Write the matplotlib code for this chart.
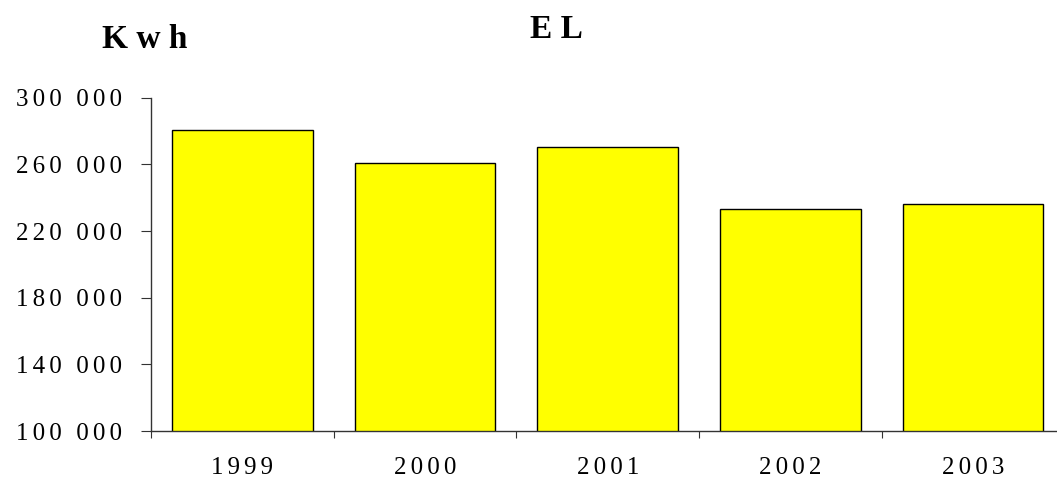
import matplotlib
matplotlib.use("Agg")
import matplotlib.pyplot as plt
import numpy as np

years = ["1999", "2000", "2001", "2002", "2003"]
kwh = [280500, 261000, 270500, 233000, 236000]
yticks = [100000, 140000, 180000, 220000, 260000, 300000]

LS = "\u2006"  # narrow gap to mimic the letter spacing of the original


def spaced(s):
    return LS.join(s)


def fmt_num(v):
    s = f"{v:,}".split(",")
    return (LS + " " + LS).join(spaced(part) for part in s)


plt.rcParams["font.family"] = ["Liberation Serif", "DejaVu Serif"]

W, H = 1057, 479
fig = plt.figure(figsize=(W / 100, H / 100), dpi=100)
x0, x1 = 151, 1064.5
y0, y1 = 431, 97.7
ax = fig.add_axes([x0 / W, (H - y0) / H, (x1 - x0) / W, (y0 - y1) / H])

x = np.arange(len(years))
ax.bar(x, kwh, width=0.77, color="#ffff00", edgecolor="black", linewidth=1.0)

ax.set_xlim(-0.5, len(years) - 0.5)
ax.set_ylim(yticks[0], yticks[-1])
ax.set_yticks(yticks)
ax.set_yticklabels([fmt_num(v) for v in yticks], fontsize=18)

ax.set_xticks(np.arange(len(years) + 1) - 0.5)
ax.set_xticklabels([])
ax.set_xticks(x, minor=True)
ax.set_xticklabels([spaced(y) for y in years], minor=True, fontsize=18)
ax.tick_params(axis="x", which="minor", length=0, pad=19)
ax.tick_params(axis="x", which="major", length=5, direction="out", color="#333333")
ax.tick_params(axis="y", length=7.2, direction="out", color="#333333", pad=13.7)

for side in ["top", "right"]:
    ax.spines[side].set_visible(False)
for side in ["left", "bottom"]:
    ax.spines[side].set_color("#333333")
    ax.spines[side].set_linewidth(1.0)

fig.text(556 / W, 1 - 38 / H, "E L", ha="center", va="baseline",
         fontsize=24, fontweight="bold")
fig.text(145 / W, 1 - 48 / H, "K w h", ha="center", va="baseline",
         fontsize=24, fontweight="bold")

fig.savefig("out.png", dpi=100)
